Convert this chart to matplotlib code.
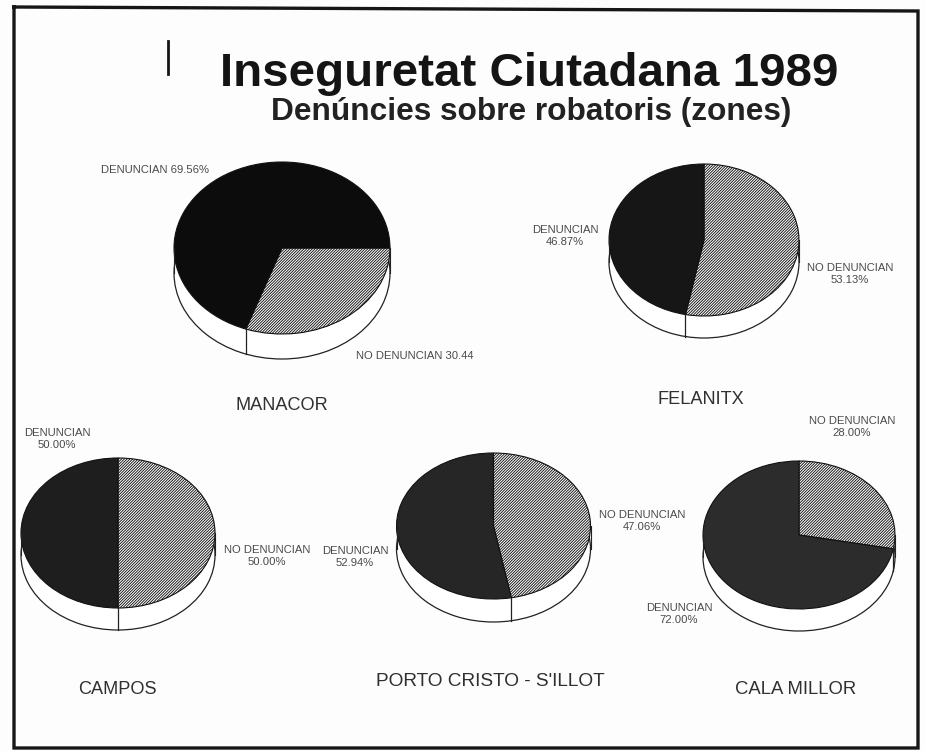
import matplotlib
matplotlib.use("Agg")
import numpy as np
import matplotlib.pyplot as plt

W, H = 925, 751

# valors llegits del grafic
zones = ["MANACOR", "FELANITX", "CAMPOS", "PORTO CRISTO - S'ILLOT", "CALA MILLOR"]
denuncian = [69.56, 46.87, 50.00, 52.94, 72.00]
no_denuncian = [30.44, 53.13, 50.00, 47.06, 28.00]
start_angles = [0, 90, 90, 90, 90]

# cx, cy, rx, ry, fondaria en pixels
geometry = [
    (282, 248, 108, 86, 25),
    (704, 240, 95, 76, 22),
    (118, 533, 97, 75, 22),
    (493.5, 526, 97, 73, 23),
    (799, 535, 96, 74, 22),
]
darks = ["#0c0c0c", "#161616", "#1e1e1e", "#262626", "#2c2c2c"]

zone_pos = [(282, 405), (701, 399), (117, 689), (490, 681), (796, 690)]
zone_size = [13.1, 13.1, 13.1, 13.7, 13.3]
label_text = [
    ["DENUNCIAN 69.56%", "NO DENUNCIAN 30.44"],
    ["DENUNCIAN\n46.87%", "NO DENUNCIAN\n53.13%"],
    ["DENUNCIAN\n50.00%", "NO DENUNCIAN\n50.00%"],
    ["DENUNCIAN\n52.94%", "NO DENUNCIAN\n47.06%"],
    ["DENUNCIAN\n72.00%", "NO DENUNCIAN\n28.00%"],
]
label_pos = [
    [(155, 170), (415, 356)],
    [(565, 236), (850, 274)],
    [(57, 439), (267, 556)],
    [(355, 557), (642, 521)],
    [(679, 614), (852, 427)],
]

plt.rcParams["font.family"] = ["Liberation Sans", "DejaVu Sans"]
plt.rcParams["hatch.linewidth"] = 0.65

fig = plt.figure(figsize=(W / 100, H / 100), dpi=100, facecolor="#fdfdfd")


def draw_pie(geom, den, no_den, start, dark):
    cx, cy, rx, ry, depth = geom
    ax = fig.add_axes([(cx - rx - 2) / W, 1 - (cy + ry + depth + 2) / H,
                       (2 * rx + 4) / W, (2 * ry + depth + 4) / H])
    d = depth / ry
    # base del cilindre
    ax.pie([1], radius=1, center=(0, -d), colors=["white"],
           wedgeprops={"edgecolor": "#222222", "linewidth": 0.9})
    ax.plot([-1, -1], [0, -d], color="#222222", lw=0.8)
    ax.plot([1, 1], [0, -d], color="#222222", lw=0.8)
    ax.fill_between([-1, 1], 0, -d, color="white", lw=0, zorder=0.5)
    # tapa: primer NO DENUNCIAN en sentit horari
    wedges, _ = ax.pie([no_den, den], radius=1, startangle=start, counterclock=False,
                       colors=["white", dark],
                       wedgeprops={"edgecolor": "#111111", "linewidth": 0.8})
    wedges[0].set_hatch("/" * 12)
    # linia de tall sobre la paret
    end = np.radians(start - no_den * 3.6)
    if np.sin(end) < 0:
        ax.plot([np.cos(end)] * 2, [np.sin(end), np.sin(end) - d], color="#222222", lw=0.9)
    ax.set_aspect("auto")
    ax.set_xlim(-1 - 2 / rx, 1 + 2 / rx)
    ax.set_ylim(-1 - d - 2 / ry, 1 + 2 / ry)
    ax.axis("off")


for i in range(len(zones)):
    draw_pie(geometry[i], denuncian[i], no_denuncian[i], start_angles[i], darks[i])

# capa de text en pixels
over = fig.add_axes([0, 0, 1, 1], facecolor="none")
over.set_xlim(0, W)
over.set_ylim(H, 0)
over.axis("off")

# marc lleugerament tort, com a l'escaneig
over.plot([14, 14, 918, 918, 14], [7, 748, 748, 11, 7], color="#161616", lw=2.4,
          solid_joinstyle="miter")
over.plot([168, 168], [41, 74], color="#161616", lw=2.0)

over.text(529.5, 86, "Inseguretat Ciutadana 1989", fontsize=34.2, fontweight="bold",
          ha="center", va="baseline", color="#141414")
over.text(531, 120, "Denúncies sobre robatoris (zones)", fontsize=22.8, fontweight="bold",
          ha="center", va="baseline", color="#222222")

for i, name in enumerate(zones):
    over.text(zone_pos[i][0], zone_pos[i][1], name, fontsize=zone_size[i], ha="center",
              va="center", color="#303030")
    for txt, pos in zip(label_text[i], label_pos[i]):
        over.text(pos[0], pos[1], txt, fontsize=8.1, ha="center", va="center",
                  color="#4a4a4a", linespacing=1.35)

fig.savefig("out.png", dpi=100)
